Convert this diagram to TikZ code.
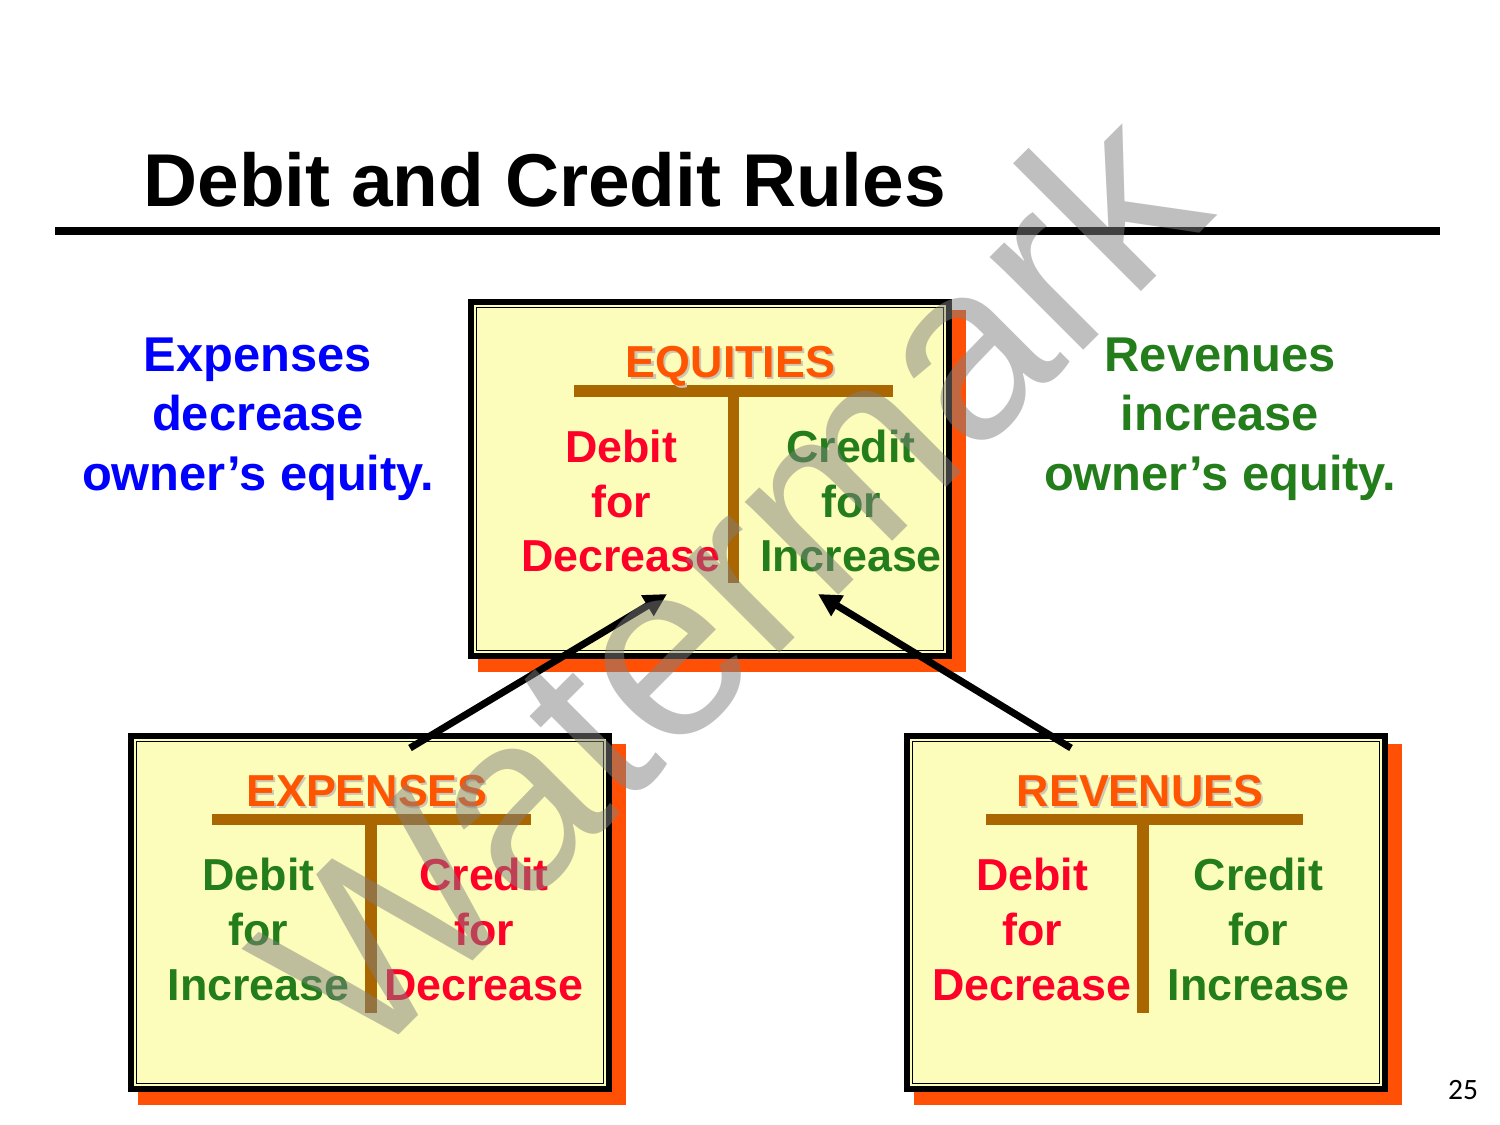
\documentclass[tikz,border=0pt]{standalone}
\usepackage{fontspec}
\setmainfont{Liberation Sans}
\newfontfamily\pagefont{Carlito}
\usetikzlibrary{arrows.meta,backgrounds}
\definecolor{boxyellow}{RGB}{253,253,187}
\definecolor{shadeorange}{RGB}{255,80,5}
\definecolor{tbrown}{RGB}{170,102,0}
\definecolor{acctred}{RGB}{255,0,40}
\definecolor{acctgreen}{RGB}{34,125,26}
\definecolor{headorange}{RGB}{255,85,0}
\definecolor{headshade}{RGB}{205,200,180}
\definecolor{noteblue}{RGB}{0,0,255}
% heading text with its soft shadow
\newcommand\headtext[1]{\makebox[0pt][l]{\hspace{1.2pt}\raisebox{-1.2pt}{\textcolor{headshade}{#1}}}#1}
\tikzset{
  acct/.style={draw=black, line width=3.4pt, fill=boxyellow,
    minimum width=9.56cm, minimum height=7.08cm, inner sep=0pt},
  tbar/.style={tbrown, line width=6.6pt},
  accthead/.style={headorange, anchor=base, inner sep=0pt,
    font=\fontsize{25.5}{31}\selectfont\bfseries},
  acctcol/.style={align=center, inner sep=0pt,
    font=\fontsize{25.5}{31.2}\selectfont\bfseries},
  note/.style={align=center, inner sep=0pt,
    font=\fontsize{27.8}{34}\selectfont\bfseries},
  flow/.style={-{Triangle[length=13pt,width=13pt]}, line width=4pt},
}
\begin{document}
\begin{tikzpicture}[x=0.02cm, y=-0.02cm]
  \useasboundingbox (0,0) rectangle (1500,1125);
  % Title
  \node[anchor=base west, inner sep=0pt, font=\fontsize{42.6}{44}\selectfont\bfseries]
    (title) at (143,207) {Debit and Credit Rules};
  \draw[line width=4.5pt] (55,231) -- (1440,231);
  % Accounts
  \node[acct] (eq) at (710,479) {};
  \node[acct] (ex) at (370,912.5) {};
  \node[acct] (rv) at (1146,912.5) {};
  % Shadows
  \begin{scope}[on background layer]
    \fill[white] (0,0) rectangle (1500,1125);
    \foreach \b in {eq,ex,rv}
      \fill[shadeorange] ([shift={(10,11)}]\b.north west) rectangle ([shift={(14,13)}]\b.south east);
  \end{scope}
  % Inner frames
  \foreach \b in {eq,ex,rv}
    \draw[line width=0.6pt] ([shift={(8.5,8.5)}]\b.north west) rectangle ([shift={(-8.5,-8.5)}]\b.south east);
  % T bars
  \draw[tbar] (574,391) -- (893,391);
  \draw[tbar] (733.5,391) -- (733.5,583);
  \draw[tbar] (212,819.5) -- (531,819.5);
  \draw[tbar] (371,819.5) -- (371,1013);
  \draw[tbar] (986,819.5) -- (1303,819.5);
  \draw[tbar] (1143,819.5) -- (1143,1013);
  % Headings
  \node[accthead] (eqHead) at (730.5,377) {\headtext{EQUITIES}};
  \node[accthead] (exHead) at (367,806) {\headtext{EXPENSES}};
  \node[accthead] (rvHead) at (1140,806) {\headtext{REVENUES}};
  % Sides
  \node[acctcol, acctred] (eqDr) at (621,501) {Debit\\for\\Decrease};
  \node[acctcol, acctgreen] (eqCr) at (851,501) {Credit\\for\\Increase};
  \node[acctcol, acctgreen] (exDr) at (258.5,929.5) {Debit\\for\\Increase};
  \node[acctcol, acctred] (exCr) at (484,929.5) {Credit\\for\\Decrease};
  \node[acctcol, acctred] (rvDr) at (1032,929.5) {Debit\\for\\Decrease};
  \node[acctcol, acctgreen] (rvCr) at (1258.5,929.5) {Credit\\for\\Increase};
  % Notes
  \node[note, noteblue] (expNote) at (258,419) {Expenses\\decrease\\owner’s equity.};
  \node[note, acctgreen] (revNote) at (1220,419) {Revenues\\increase\\owner’s equity.};
  % Arrows
  \coordinate (exFoot) at (410,748);
  \coordinate (eqDebit) at (667,594);
  \coordinate (rvFoot) at (1071,748);
  \coordinate (eqCredit) at (818,594);
  \draw[flow] (exFoot) -- (eqDebit);
  \draw[flow] (rvFoot) -- (eqCredit);
  % Page number
  \node[anchor=base, inner sep=0pt, font=\pagefont\fontsize{16.8}{18}\selectfont]
    (pgNo) at (1463,1099) {25};
  % Watermark
  \node[rotate=45, text=gray, opacity=0.5, font=\fontsize{142}{142}\selectfont]
    (wmark) at (727,580) {Watermark};
\end{tikzpicture}
\end{document}
